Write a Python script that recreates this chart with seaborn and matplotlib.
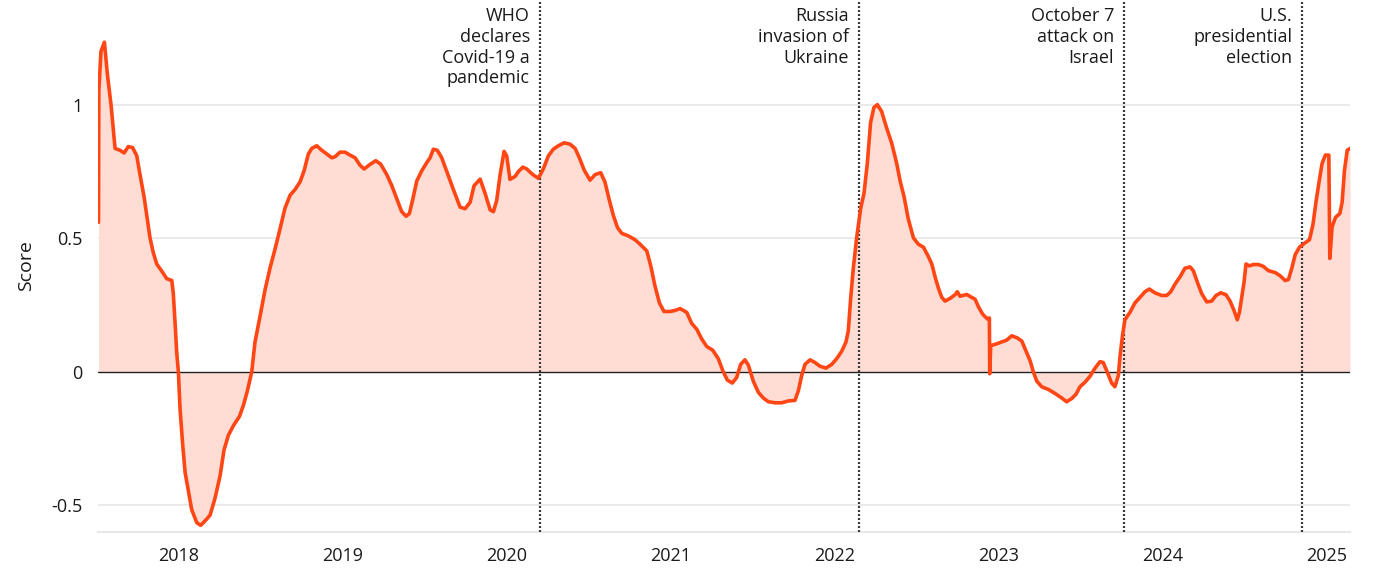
import matplotlib
matplotlib.use("Agg")
import matplotlib.pyplot as plt
import numpy as np
import pandas as pd
import seaborn as sns

# --- data (decimal years, score) ---
years = [
    2017.512, 2017.514, 2017.527, 2017.548, 2017.566, 2017.589, 2017.613, 2017.643,
    2017.668, 2017.694, 2017.720, 2017.745, 2017.765, 2017.790, 2017.806, 2017.826,
    2017.846, 2017.867, 2017.898, 2017.928, 2017.959, 2017.968, 2017.979, 2017.989,
    2017.999, 2018.009, 2018.026, 2018.040, 2018.060, 2018.080, 2018.111, 2018.135,
    2018.162, 2018.192, 2018.222, 2018.253, 2018.277, 2018.304, 2018.334, 2018.371,
    2018.395, 2018.420, 2018.446, 2018.466, 2018.497, 2018.527, 2018.558, 2018.588,
    2018.619, 2018.649, 2018.680, 2018.710, 2018.740, 2018.765, 2018.791, 2018.812,
    2018.842, 2018.873, 2018.903, 2018.934, 2018.954, 2018.984, 2019.015, 2019.045,
    2019.076, 2019.106, 2019.131, 2019.167, 2019.202, 2019.232, 2019.269, 2019.300,
    2019.330, 2019.360, 2019.387, 2019.407, 2019.431, 2019.452, 2019.482, 2019.513,
    2019.533, 2019.553, 2019.577, 2019.604, 2019.635, 2019.675, 2019.716, 2019.746,
    2019.777, 2019.801, 2019.838, 2019.868, 2019.899, 2019.919, 2019.939, 2019.960,
    2019.984, 2020.000, 2020.020, 2020.051, 2020.071, 2020.098, 2020.122, 2020.159,
    2020.193, 2020.223, 2020.254, 2020.284, 2020.315, 2020.350, 2020.386, 2020.417,
    2020.443, 2020.472, 2020.508, 2020.539, 2020.573, 2020.599, 2020.626, 2020.650,
    2020.675, 2020.701, 2020.742, 2020.782, 2020.813, 2020.854, 2020.878, 2020.904,
    2020.931, 2020.959, 2020.996, 2021.026, 2021.057, 2021.097, 2021.128, 2021.158,
    2021.189, 2021.219, 2021.256, 2021.290, 2021.320, 2021.345, 2021.375, 2021.402,
    2021.426, 2021.452, 2021.473, 2021.503, 2021.534, 2021.564, 2021.595, 2021.636,
    2021.676, 2021.717, 2021.757, 2021.778, 2021.798, 2021.818, 2021.849, 2021.879,
    2021.910, 2021.946, 2021.981, 2022.011, 2022.042, 2022.068, 2022.082, 2022.097,
    2022.113, 2022.133, 2022.158, 2022.178, 2022.198, 2022.218, 2022.238, 2022.259,
    2022.285, 2022.316, 2022.346, 2022.377, 2022.398, 2022.422, 2022.448, 2022.479,
    2022.509, 2022.540, 2022.570, 2022.591, 2022.611, 2022.631, 2022.652, 2022.672,
    2022.702, 2022.733, 2022.747, 2022.763, 2022.804, 2022.834, 2022.855, 2022.875,
    2022.901, 2022.930, 2022.942, 2022.944, 2022.950, 2022.987, 2023.017, 2023.048,
    2023.078, 2023.109, 2023.139, 2023.166, 2023.190, 2023.210, 2023.231, 2023.261,
    2023.302, 2023.342, 2023.383, 2023.413, 2023.444, 2023.470, 2023.494, 2023.525,
    2023.555, 2023.586, 2023.616, 2023.636, 2023.660, 2023.687, 2023.707, 2023.728,
    2023.738, 2023.754, 2023.768, 2023.799, 2023.829, 2023.860, 2023.890, 2023.917,
    2023.951, 2023.992, 2024.023, 2024.047, 2024.073, 2024.104, 2024.134, 2024.165,
    2024.185, 2024.210, 2024.236, 2024.267, 2024.297, 2024.323, 2024.352, 2024.384,
    2024.409, 2024.433, 2024.453, 2024.466, 2024.480, 2024.494, 2024.506, 2024.527,
    2024.551, 2024.582, 2024.612, 2024.643, 2024.684, 2024.714, 2024.745, 2024.765,
    2024.786, 2024.806, 2024.832, 2024.861, 2024.893, 2024.914, 2024.934, 2024.955,
    2024.970, 2024.990, 2025.011, 2025.017, 2025.031, 2025.052, 2025.078, 2025.092,
    2025.106, 2025.123, 2025.140,
]
scores = [
    0.560, 1.050, 1.200, 1.235, 1.116, 0.997, 0.837, 0.830,
    0.820, 0.844, 0.840, 0.810, 0.739, 0.655, 0.586, 0.502,
    0.446, 0.404, 0.377, 0.349, 0.342, 0.293, 0.181, 0.070,
    0.000, -0.139, -0.279, -0.377, -0.446, -0.516, -0.565, -0.575,
    -0.558, -0.537, -0.474, -0.390, -0.293, -0.237, -0.202, -0.167,
    -0.126, -0.070, 0.000, 0.112, 0.209, 0.307, 0.390, 0.460,
    0.537, 0.614, 0.662, 0.683, 0.711, 0.753, 0.816, 0.837,
    0.847, 0.830, 0.816, 0.802, 0.806, 0.823, 0.823, 0.812,
    0.802, 0.774, 0.760, 0.777, 0.791, 0.778, 0.739, 0.697,
    0.649, 0.600, 0.583, 0.593, 0.656, 0.715, 0.753, 0.784,
    0.802, 0.834, 0.830, 0.802, 0.750, 0.683, 0.617, 0.611,
    0.635, 0.697, 0.722, 0.669, 0.607, 0.600, 0.642, 0.739,
    0.826, 0.809, 0.721, 0.732, 0.750, 0.767, 0.760, 0.739,
    0.725, 0.760, 0.809, 0.834, 0.847, 0.858, 0.853, 0.837,
    0.802, 0.756, 0.718, 0.739, 0.746, 0.711, 0.642, 0.586,
    0.541, 0.519, 0.509, 0.495, 0.478, 0.453, 0.397, 0.321,
    0.258, 0.226, 0.226, 0.230, 0.237, 0.223, 0.181, 0.160,
    0.123, 0.095, 0.081, 0.049, 0.000, -0.031, -0.042, -0.021,
    0.028, 0.045, 0.025, -0.035, -0.077, -0.098, -0.112, -0.116,
    -0.116, -0.109, -0.107, -0.070, -0.014, 0.028, 0.045, 0.035,
    0.021, 0.014, 0.028, 0.049, 0.077, 0.112, 0.153, 0.279,
    0.390, 0.502, 0.614, 0.669, 0.781, 0.934, 0.990, 1.001,
    0.976, 0.913, 0.858, 0.781, 0.715, 0.656, 0.572, 0.502,
    0.478, 0.467, 0.432, 0.404, 0.356, 0.314, 0.279, 0.265,
    0.275, 0.289, 0.300, 0.283, 0.290, 0.279, 0.272, 0.244,
    0.216, 0.198, 0.202, -0.007, 0.098, 0.105, 0.112, 0.119,
    0.135, 0.128, 0.116, 0.077, 0.042, 0.000, -0.035, -0.056,
    -0.066, -0.081, -0.098, -0.112, -0.100, -0.084, -0.056, -0.039,
    -0.017, 0.014, 0.038, 0.035, 0.000, -0.042, -0.056, -0.014,
    0.056, 0.139, 0.195, 0.223, 0.258, 0.279, 0.300, 0.310,
    0.296, 0.286, 0.286, 0.300, 0.328, 0.356, 0.388, 0.393,
    0.379, 0.335, 0.293, 0.262, 0.265, 0.286, 0.296, 0.289,
    0.265, 0.230, 0.195, 0.223, 0.279, 0.335, 0.404, 0.397,
    0.402, 0.402, 0.395, 0.379, 0.372, 0.360, 0.342, 0.346,
    0.390, 0.439, 0.467, 0.481, 0.495, 0.551, 0.642, 0.725,
    0.781, 0.812, 0.812, 0.425, 0.544, 0.579, 0.593, 0.635,
    0.753, 0.830, 0.837,
]

event_years = [2020.20, 2022.147, 2023.762, 2024.847]
event_labels = [
    "WHO\ndeclares\nCovid-19 a\npandemic",
    "Russia\ninvasion of\nUkraine",
    "October 7\nattack on\nIsrael",
    "U.S.\npresidential\nelection",
]
tick_years = [2018, 2019, 2020, 2021, 2022, 2023, 2024, 2025]
y_ticks = [-0.5, 0, 0.5, 1]
y_tick_labels = ["-0.5", "0", "0.5", "1"]

LINE = "#ff4614"
FILL = "#ffdcd4"
GRID = "#e8e8e8"
TEXT = "#1a1a1a"

sns.set_style("white")
plt.rcParams["font.family"] = ["Open Sans", "DejaVu Sans"]
plt.rcParams["font.size"] = 13

df = pd.DataFrame({"year": years, "score": scores})

fig = plt.figure(figsize=(13.79, 5.83), dpi=100)
ax = fig.add_axes([98 / 1379, 51 / 583, 1252 / 1379, 532 / 583])

ax.fill_between(df["year"], 0, df["score"], color=FILL, linewidth=0, zorder=1)
for yv in [-0.5, 0.5, 1]:
    ax.axhline(yv, color=GRID, lw=1.3, zorder=0)
ax.axhline(0, color="#222222", lw=1.0, zorder=2)

sns.lineplot(data=df, x="year", y="score", color=LINE, lw=2.6,
             estimator=None, sort=False, ax=ax, zorder=4)

for ex, lab in zip(event_years, event_labels):
    ax.axvline(ex, color="#3a3a3a", lw=1.6, linestyle=(0, (0.9, 0.9)), zorder=3)
    ax.annotate(lab, xy=(ex, 1), xycoords=("data", "axes fraction"),
                xytext=(-7, -5), textcoords="offset points",
                ha="right", va="top", fontsize=13, color=TEXT, linespacing=1.2)

ax.set_xlim(2017.509, 2025.14)
ax.set_ylim(-0.6, 1.393)
ax.set_xticks(tick_years)
ax.set_xticklabels([str(y) for y in tick_years], fontsize=13, color=TEXT)
ax.set_yticks(y_ticks)
ax.set_yticklabels(y_tick_labels, fontsize=13, color=TEXT)
ax.set_xlabel("")
ax.set_ylabel("Score", fontsize=14, color=TEXT, labelpad=12)

for side in ["top", "right", "left"]:
    ax.spines[side].set_visible(False)
ax.spines["bottom"].set_color(GRID)
ax.spines["bottom"].set_linewidth(1.5)
ax.tick_params(axis="x", length=6, width=1.2, color=GRID, pad=5)
ax.tick_params(axis="y", length=0, pad=11)

fig.savefig("out.png", dpi=100)
